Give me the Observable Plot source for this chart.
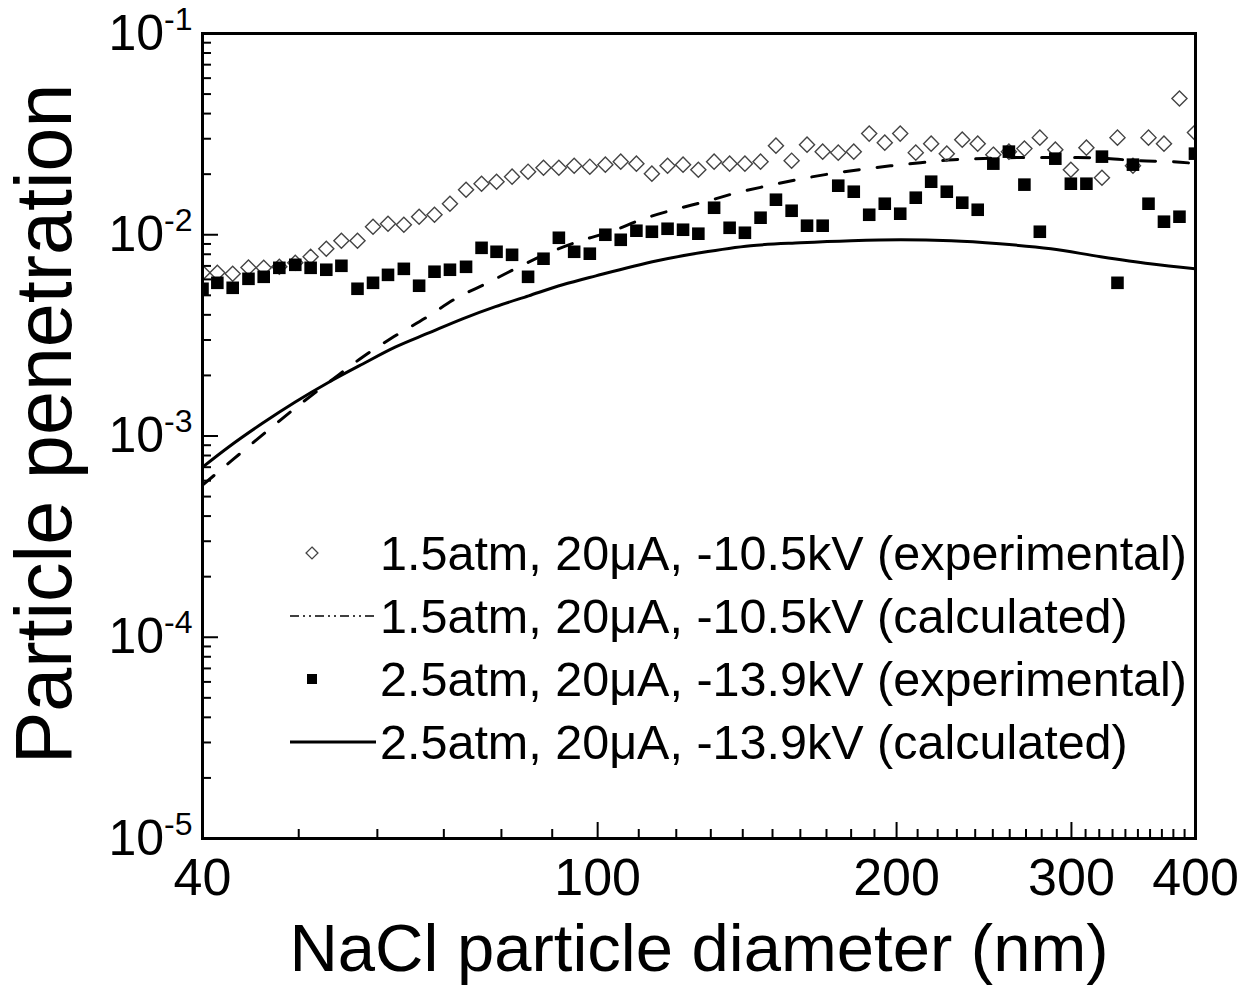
<!DOCTYPE html>
<html><head><meta charset="utf-8">
<script src="https://cdn.jsdelivr.net/npm/d3@7"></script>
<script src="https://cdn.jsdelivr.net/npm/@observablehq/plot@0.6"></script>
<style>
body{margin:0;background:#fff;}
#wrap{position:relative;width:1249px;height:985px;font-family:"Liberation Sans",Arial,sans-serif;}
#wrap svg{display:block;}
#legend{position:absolute;left:0;top:0;pointer-events:none;}
</style></head><body><div id="wrap"></div>
<script>
// ---- data ----
const diameters = [40.0,41.4,42.9,44.5,46.1,47.8,49.6,51.4,53.3,55.2,57.3,59.4,61.5,63.8,66.1,68.5,71.0,73.7,76.4,79.1,
  82.0,85.1,88.2,91.4,94.7,98.2,101.8,105.5,109.4,113.4,117.6,121.9,126.3,131.0,135.8,140.7,145.9,151.2,156.8,162.5,
  168.5,174.7,181.1,187.7,194.6,201.7,209.1,216.7,224.7,232.9,241.4,250.3,259.5,269.0,278.8,289.0,299.6,310.6,322.0,333.8,
  346.0,358.7,371.8,385.4,399.5];
const exp15 = [6.47e-3,6.47e-3,6.40e-3,6.88e-3,6.85e-3,6.93e-3,7.26e-3,7.77e-3,8.52e-3,9.34e-3,9.34e-3,1.096e-2,1.134e-2,1.121e-2,1.229e-2,1.257e-2,1.426e-2,1.674e-2,1.793e-2,1.835e-2,
  1.944e-2,2.058e-2,2.154e-2,2.154e-2,2.204e-2,2.179e-2,2.230e-2,2.308e-2,2.256e-2,2.012e-2,2.204e-2,2.230e-2,2.105e-2,2.308e-2,2.256e-2,2.256e-2,2.308e-2,2.772e-2,2.334e-2,2.804e-2,
  2.588e-2,2.559e-2,2.588e-2,3.181e-2,2.869e-2,3.181e-2,2.559e-2,2.836e-2,2.529e-2,2.969e-2,2.836e-2,2.500e-2,2.588e-2,2.679e-2,3.038e-2,2.648e-2,2.105e-2,2.709e-2,1.921e-2,3.038e-2,
  2.204e-2,3.038e-2,2.836e-2,4.75e-2,3.218e-2];
const exp25 = [5.39e-3,5.77e-3,5.45e-3,6.04e-3,6.18e-3,6.85e-3,7.09e-3,6.85e-3,6.70e-3,7.01e-3,5.39e-3,5.77e-3,6.32e-3,6.77e-3,5.58e-3,6.55e-3,6.70e-3,6.93e-3,8.61e-3,8.23e-3,
  7.95e-3,6.18e-3,7.60e-3,9.66e-3,8.23e-3,8.05e-3,1.00e-2,9.44e-3,1.047e-2,1.035e-2,1.071e-2,1.059e-2,1.012e-2,1.362e-2,1.083e-2,1.023e-2,1.215e-2,1.493e-2,1.316e-2,1.109e-2,
  1.109e-2,1.753e-2,1.636e-2,1.257e-2,1.426e-2,1.272e-2,1.528e-2,1.835e-2,1.636e-2,1.443e-2,1.331e-2,2.256e-2,2.588e-2,1.774e-2,1.035e-2,2.388e-2,1.793e-2,1.793e-2,2.444e-2,5.77e-3,
  2.230e-2,1.426e-2,1.161e-2,1.229e-2,2.529e-2];
const calc15D = [40,43,46.6,50.2,54.0,58.0,62.3,67.1,71.9,77.5,83.0,88.8,96.1,103.0,111.2,119.2,129.0,138.3,148.3,158.9,171.6,183.9,197.2,211.4,228.2,244.6,264.6,283.7,304.1,326.1,352.1,377.3,400];
const calc15P = [5.70e-4,7.69e-4,1.071e-3,1.442e-3,1.90e-3,2.47e-3,3.11e-3,3.86e-3,4.81e-3,5.77e-3,6.86e-3,8.04e-3,9.33e-3,1.035e-2,1.20e-2,1.33e-2,1.47e-2,1.62e-2,1.75e-2,1.88e-2,2.01e-2,2.11e-2,2.20e-2,2.28e-2,2.36e-2,2.39e-2,2.42e-2,2.42e-2,2.42e-2,2.39e-2,2.33e-2,2.31e-2,2.26e-2];
const calc25D = [40,42.5,46,49.6,53.5,58,62.6,67.6,73.1,78.9,85.2,92.2,99.6,114.8,126.8,142.6,160,180,202,227,254,286,321,360,400];
const calc25P = [7.0e-4,8.82e-4,1.16e-3,1.476e-3,1.84e-3,2.28e-3,2.77e-3,3.25e-3,3.82e-3,4.39e-3,4.97e-3,5.64e-3,6.25e-3,7.43e-3,8.13e-3,8.82e-3,9.12e-3,9.34e-3,9.44e-3,9.34e-3,9.02e-3,8.52e-3,7.78e-3,7.18e-3,6.78e-3];
const xTickLabels = [40,100,200,300,400];
const yTickValues = [1e-5,1e-4,1e-3,1e-2,1e-1];
const yTickExponents = ["-5","-4","-3","-2","-1"];
const legendLabels = [
  "1.5atm, 20\u03bcA, -10.5kV (experimental)",
  "1.5atm, 20\u03bcA, -10.5kV (calculated)",
  "2.5atm, 20\u03bcA, -13.9kV (experimental)",
  "2.5atm, 20\u03bcA, -13.9kV (calculated)"
];
const xTitle = "NaCl particle diameter (nm)";
const yTitle = "Particle penetration";

// ---- tables built from arrays ----
const rows15 = diameters.map((d,i)=>({d, p: exp15[i]}));
const rows25 = diameters.map((d,i)=>({d, p: exp25[i]}));
const line15 = calc15D.map((d,i)=>({d, p: calc15P[i]}));
const line25 = calc25D.map((d,i)=>({d, p: calc25P[i]}));
const xMinor = d3.range(50, 400, 10).filter(v => !xTickLabels.includes(v));
const yMinor = [];
yTickValues.slice(0,-1).forEach(b => { for (let k=2;k<10;k++) yMinor.push(b*k); });

const FONT = '"Liberation Sans", Arial, sans-serif';
const W = 1249, H = 985;
const chart = Plot.plot({
  width: W, height: H,
  marginLeft: 202, marginRight: 54, marginTop: 33, marginBottom: 147,
  style: {fontFamily: FONT, color: "#000", background: "#fff", overflow: "visible"},
  x: {type: "log", domain: [40, 400], label: null},
  y: {type: "log", domain: [1e-5, 1e-1], label: null},
  marks: [
    Plot.line(line25, {x: "d", y: "p", stroke: "#000", strokeWidth: 3, curve: "monotone-x", clip: true}),
    Plot.line(line15, {x: "d", y: "p", stroke: "#000", strokeWidth: 3, strokeDasharray: "15,18", curve: "monotone-x", clip: true}),
    Plot.dot(rows15, {x: "d", y: "p", symbol: "diamond2", r: 6.8, stroke: "#444", strokeWidth: 1.4, fill: "none", clip: true}),
    Plot.dot(rows25, {x: "d", y: "p", symbol: "square", r: 7.1, fill: "#000", stroke: null, clip: true}),
    Plot.axisX({ticks: xTickLabels, tickSize: -16, tickFormat: () => "", strokeWidth: 2, label: null}),
    Plot.axisX({ticks: xMinor, tickSize: -9, tickFormat: () => "", strokeWidth: 2, label: null}),
    Plot.axisX({ticks: xTickLabels, tickSize: 0, tickPadding: 20, fontSize: 52, tickFormat: d => String(d), label: null}),
    Plot.axisY({ticks: yTickValues, tickSize: -16, tickFormat: () => "", strokeWidth: 2, label: null}),
    Plot.axisY({ticks: yMinor, tickSize: -9, tickFormat: () => "", strokeWidth: 2, label: null}),
    Plot.axisY({ticks: yTickValues, tickSize: 0, tickPadding: 10, fontSize: 50,
      tickFormat: d => "10^" + yTickExponents[yTickValues.indexOf(d)], label: null}),
    Plot.frame({stroke: "#000", strokeWidth: 3}),
    Plot.text([xTitle], {frameAnchor: "bottom", dy: 132, fontSize: 67, fill: "#000"})
  ]
});
document.getElementById("wrap").appendChild(chart);

// superscript exponents on y tick labels
d3.select(chart).selectAll("text").each(function() {
  const t = this.textContent;
  if (t.startsWith("10^")) {
    const e = t.slice(3);
    const sel = d3.select(this);
    sel.text("10");
    sel.append("tspan").attr("font-size", 32).attr("dy", -20).text(e);
  }
});

// ---- overlay: y title and legend ----
const leg = d3.select("#wrap").append("svg").attr("id", "legend")
  .attr("width", W).attr("height", H)
  .style("font-family", FONT);
leg.append("text").attr("transform", "translate(43,424) rotate(-90)")
  .attr("text-anchor", "middle").attr("dy", "0.36em")
  .attr("font-size", 79).attr("fill", "#000").text(yTitle);

const legX = 312, legTextX = 380, legTop = 553, legGap = 63;
const kinds = ["diamond", "dash", "square", "solid"];
legendLabels.forEach((lab, i) => {
  const cy = legTop + i * legGap;
  const k = kinds[i];
  if (k === "diamond") {
    leg.append("path").attr("d", d3.symbol(d3.symbolDiamond2, 90)()).attr("transform", `translate(${legX},${cy})`)
      .attr("fill", "none").attr("stroke", "#444").attr("stroke-width", 1.3);
  } else if (k === "square") {
    leg.append("path").attr("d", d3.symbol(d3.symbolSquare, 100)()).attr("transform", `translate(${legX},${cy})`)
      .attr("fill", "#000");
  } else {
    leg.append("line").attr("x1", 290).attr("x2", 376).attr("y1", cy).attr("y2", cy)
      .attr("stroke", "#000").attr("stroke-width", k === "solid" ? 3 : 1.6)
      .attr("stroke-dasharray", k === "solid" ? null : "9,4,2,4,2,4");
  }
  leg.append("text").attr("x", legTextX).attr("y", cy).attr("dy", "0.35em")
    .attr("font-size", 48.5).attr("fill", "#000").text(lab);
});
</script></body></html>
